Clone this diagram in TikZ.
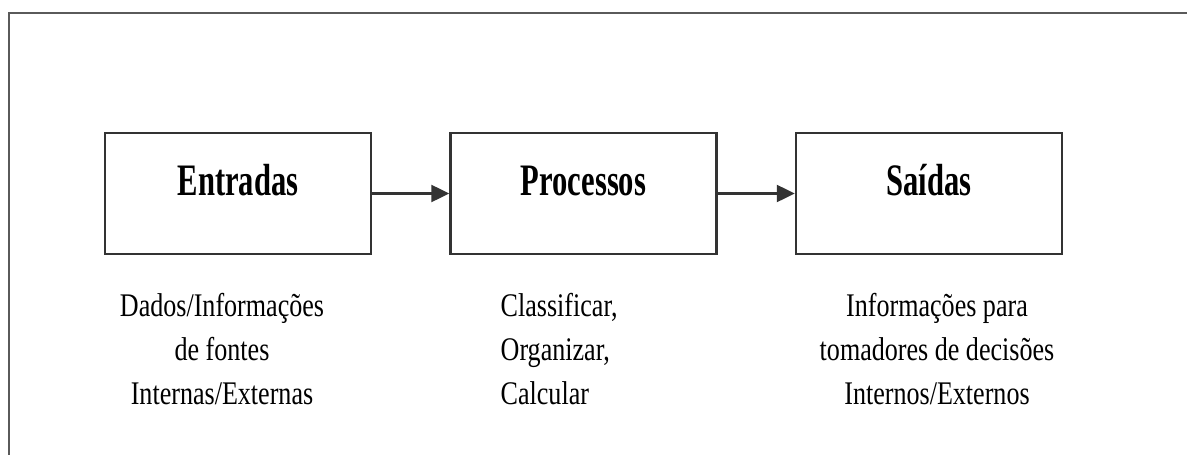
\documentclass[tikz,border=0pt]{standalone}
\usepackage{fontspec}
\setmainfont{Liberation Serif}
\newfontfamily\titlefont[FakeStretch=0.68]{Liberation Serif}
\newfontfamily\bodyfont[FakeStretch=0.79]{Liberation Serif}
\usetikzlibrary{positioning, arrows.meta}
\definecolor{linecol}{HTML}{333333}
\definecolor{framecol}{HTML}{5A5A5A}
\tikzstyle{block} = [rectangle, minimum width=266pt, minimum height=121pt, text height=30pt, text depth=27pt, inner sep=0pt, draw=linecol, line width=2.5pt, font=\titlefont\bfseries\fontsize{45}{50}\selectfont]
\tikzstyle{note} = [inner sep=0pt, anchor=north, font=\bodyfont\fontsize{33}{44}\selectfont]
\tikzstyle{arrow} = [draw=linecol, fill=black, line width=2.5pt, -{Triangle[length=18pt,width=17pt]}]

\begin{document}
\begin{tikzpicture}[x=1pt,y=-1pt]
\useasboundingbox (0,0) rectangle (1187,455);

% moldura
\draw [framecol, line width=2pt] (9,455) -- (9,13) -- (1187,13);

\node (entradas) [block] at (238,193.5) {Entradas};
\node (processos) [block, right=77pt of entradas] {Processos};
\node (saidas) [block, right=77pt of processos] {Saídas};

\node (dados) [note, align=center, below=38pt of entradas.south, xshift=-16pt] {Dados/Informações\\de fontes\\Internas/Externas};
\node (classif) [note, align=left, below=38pt of processos.south, anchor=north west, xshift=-83pt] {Classificar,\\Organizar,\\Calcular};
\node (infos) [note, align=center, below=38pt of saidas.south, xshift=8pt] {Informações para\\tomadores de decisões\\Internos/Externos};

\draw [arrow] (entradas) -- (processos);
\draw [arrow] (processos) -- (saidas);

\end{tikzpicture}
\end{document}
